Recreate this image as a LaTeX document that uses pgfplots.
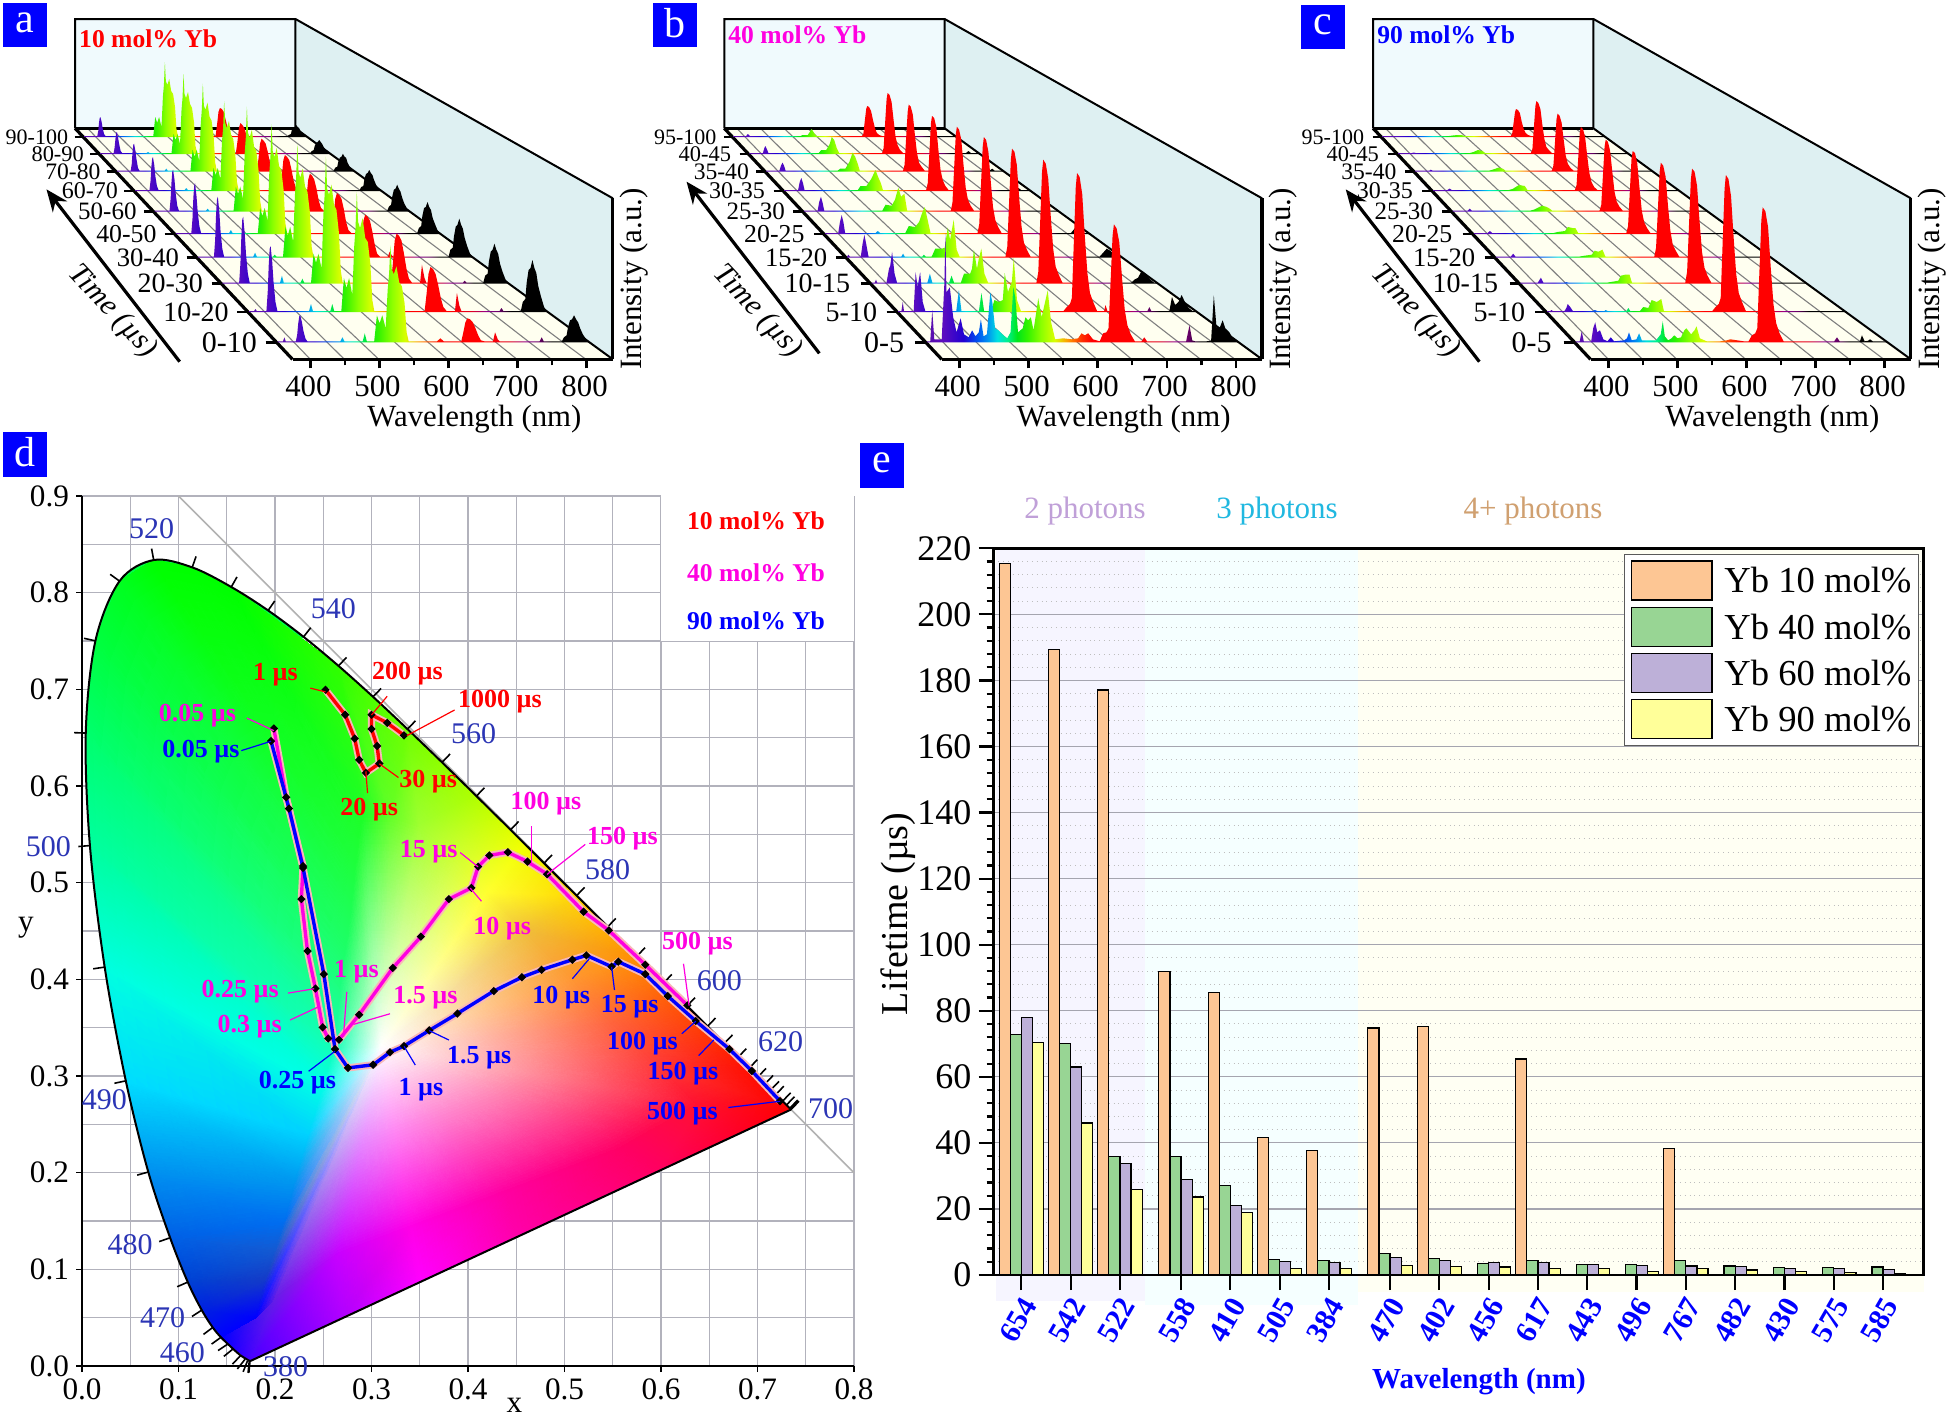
\documentclass[border=0pt]{standalone}
\usepackage{fontspec}
\setmainfont{Liberation Serif}
\usepackage{pgfplots}
\usepackage{pgfplotstable}
\pgfplotsset{compat=1.18}
\usepgfplotslibrary{patchplots}
\usetikzlibrary{arrows.meta}
\newcommand\fs[1]{\fontsize{#1}{#1}\selectfont}
\pgfdeclarehorizontalshading{spectrum}{100bp}{rgb(0bp)=(.35,.06,.66);rgb(25bp)=(.35,.06,.66);rgb(27.6bp)=(.36,.05,.75);rgb(30.85bp)=(.13,0,.82);rgb(33bp)=(0,.31,.94);rgb(34.65bp)=(0,.56,.94);rgb(36.3bp)=(0,.88,.88);rgb(37.9bp)=(0,.94,.56);rgb(39.5bp)=(0,.9,.1);rgb(41.15bp)=(.2,.95,0);rgb(43.35bp)=(.55,1,0);rgb(45.5bp)=(.85,1,0);rgb(47.65bp)=(1,.6,0);rgb(49.85bp)=(1,.19,0);rgb(51.45bp)=(1,0,0);rgb(59.05bp)=(1,0,0);rgb(62.3bp)=(.88,0,.13);rgb(65bp)=(.56,0,.56);rgb(67.2bp)=(.38,0,.38);rgb(69bp)=(0,0,0);rgb(75bp)=(0,0,0);rgb(100bp)=(0,0,0)}
\pgfplotsset{ridgeax/.style={scale only axis,hide axis,clip=false,xmin=374,xmax=838,ymin=0,ymax=200,height=100pt,anchor=south west}}
\newcommand\ridge[5]{\edef\tmpat{{({(\ox+#2)*.5pt},{-(#3)*.5pt})}}\begin{axis}[ridgeax,width=#4pt,at/.expand once=\tmpat]\addplot[draw=none,shade,shading=spectrum] coordinates {#5};\end{axis}}
\newcommand\RA{\ridge{\ox}{276.3}{342.3}{156.65}}
\newcommand\RB{\ridge{\ox}{247.7}{312}{149.8}}
\newcommand\RC{\ridge{\ox}{221.2}{283.7}{143.75}}
\newcommand\RD{\ridge{\ox}{196.7}{257.7}{138.15}}
\newcommand\RE{\ridge{\ox}{174.7}{234}{133}}
\newcommand\RF{\ridge{\ox}{153.5}{211.7}{128.2}}
\newcommand\RG{\ridge{\ox}{134}{191}{123.75}}
\newcommand\RH{\ridge{\ox}{115.8}{171.7}{119.5}}
\newcommand\RI{\ridge{\ox}{99.2}{154}{115.75}}
\newcommand\RJ{\ridge{\ox}{83.3}{137}{112}}
% panel background, zoom coordinates
\newcommand\panelbg[3]{%
\begin{scope}[shift={(\ox,0)},x=.20747pt,y=-.16667pt]
\fill[fill={rgb,255:red,240;green,250;blue,253}] (181,57) rectangle (712,385);
\fill[fill={rgb,255:red,222;green,240;blue,242}] (712,57)--(1477,595)--(1477,1078)--(712,385)--cycle;
\fill[fill={rgb,255:red,255;green,255;blue,240}] (181,385)--(712,385)--(1477,1078)--(705,1078)--cycle;
\foreach \b/\f in {211/748,268/830,325/913,382/997,440/1079,497/1163,554/1246,611/1329,668/1412}{\draw[gray,line width=.55pt] (\b,385)--(\f,1078);}
\draw[black,line width=1pt] (181,385)--(181,57)--(712,57)--(1477,595);
\draw[black,line width=1pt] (712,57)--(712,385)--(1477,1078);
\draw[black,line width=1.2pt] (181,385)--(712,385);
\draw[black,line width=1.6pt] (181,385)--(705,1078);
\draw[black,line width=1.6pt] (1477,595)--(1477,1078);
\node[anchor=west,inner sep=0pt,text=#2,font=\fs{12.8}\bfseries] at (190,#1) {#3 mol\% Yb};
\node[rotate=90,font=\fs{15.5}] at (1528,837) {Intensity (a.u.)};
\end{scope}}
\newcommand\rowlabs[1]{%
\begin{scope}[shift={(\ox,0)},x=.20747pt,y=-.16667pt]
\foreach \ly/\lx/\tx/\ex/\sz/\lab in {#1}{
\draw[black,line width=1.3pt] (\tx,\ly)--(\ex,\ly);
\node[anchor=east,inner sep=0pt,font=\fs{\sz}] at (\lx,\ly) {\lab};}
\end{scope}}
\newcommand\timearrow[5]{%
\begin{scope}[shift={(\ox,0)},x=.20747pt,y=-.16667pt]
\draw[black,line width=1.6pt,-{Stealth[length=11pt,width=9pt]}] (#1,#2)--(#3,#4);
\node[rotate=-47,font=\fs{15}\itshape] at (#5,935) {Time (µs)};
\end{scope}}
\newcommand\waxis{%
\edef\tmpat{{({(\ox+292.5)*.5pt},{-359.3*.5pt})}}%
\begin{axis}[scale only axis,width=160.15pt,height=10pt,at/.expand once=\tmpat,anchor=south west,xmin=374,xmax=838,ymin=0,ymax=1,
 axis x line*=bottom,axis y line=none,axis line style={line width=1.5pt,-},xtick={400,500,600,700,800},minor xtick={450,550,650,750},
 tick align=outside,major tick length=4.5pt,minor tick length=3pt,tick style={black,line width=1.25pt},
 xticklabel style={font=\fs{15.4},yshift=-.5pt,xshift=-1pt},/pgf/number format/assume math mode=true,/pgf/number format/1000 sep={},
 xlabel={Wavelength (nm)},xlabel style={font=\fs{15.4},at={(rel axis cs:0.568,0)},anchor=center,yshift=-29.7pt}]
\end{axis}}
\newcommand\panelsq[3]{\fill[fill={rgb,255:red,0;green,0;blue,255}] (#1,#2) rectangle ++(44,44.5);\node[text=white,font=\fs{21}] at (#1+22,#2+20) {#3};}
\pgfplotstableread{
x o g p y
0 215.5 72.9 77.9 70.3
1 189.3 70.1 63 46
2 177.1 35.8 33.8 25.9
3.24 91.9 35.8 28.8 23.6
4.24 85.5 27.1 21 19
5.24 41.7 4.6 4.2 2
6.24 37.6 4.5 3.9 1.9
7.48 74.8 6.4 5.3 3
8.48 75.3 5.1 4.5 2.5
9.48 nan 3.4 3.7 2.4
10.48 65.4 4.5 3.7 2
11.48 nan 3.2 3.2 2
12.48 nan 3.2 2.8 1
13.48 38.4 4.3 2.7 1.9
14.48 nan 2.7 2.5 1.5
15.48 nan 2.2 2 1.1
16.48 nan 2.3 1.9 .7
17.48 nan 2.4 1.7 .5
}\lifetimes
\definecolor{bo}{HTML}{FDC694}\definecolor{bg}{HTML}{98D594}\definecolor{bp}{HTML}{BDB0D8}\definecolor{by}{HTML}{FFFF99}
\definecolor{wl}{HTML}{2B35B5}\definecolor{hr}{HTML}{F8B8B8}\definecolor{mg}{HTML}{FF00E0}
\begin{document}
\begin{tikzpicture}[x=.5pt,y=-.5pt]
\useasboundingbox (0,0) rectangle (1950,1419);
\fill[white] (0,0) rectangle (1950,1419);
%%%%%%%%%%%% panel a
\def\ox{0}\panelbg{115}{red}{10}
\RJ{(376,0)(376,1)(403,1)(405,6)(406.5,14)(408,19)(409.5,20)(412,15)(414,9)(417,3)(420,1)(519,1)(523,20)(527,14)(531,20)(536,10)(539,41)(541,52)(543,75)(545,56)(548,52)(552,58)(556,46)(560,43)(564,30)(567,8)(570,1)(648,1)(651,12)(654,25)(657,29)(661,28)(665,25)(669,17)(673,9)(677,3)(682,1)(797,1)(800,2)(804,3)(806,7)(809,10)(812,10)(815,12)(818,10)(821,9)(824,6)(828,4)(833,1)(837,1)(837,0)}
\RI{(376,0)(376,1)(403,1)(405,7)(406.5,15)(408,21)(409.5,22)(412,16)(414,10)(417,3)(420,1)(469,1)(472,2)(475,1)(519,1)(523,20)(527,14)(531,20)(536,10)(539,44)(541,56)(543,80)(545,60)(548,56)(552,62)(556,50)(560,46)(564,32)(567,8)(570,1)(648,1)(651,12)(654,26)(657,31)(661,29)(665,26)(669,19)(673,9)(677,3)(682,1)(797,1)(800,3)(804,4)(806,8)(809,11)(812,12)(815,14)(818,12)(821,10)(824,7)(828,4)(833,1)(837,1)(837,0)}
\RH{(376,0)(376,1)(403,1)(405,8)(406.5,20)(408,27)(409.5,28)(412,21)(414,13)(417,4)(420,1)(469,1)(472,3)(475,1)(519,1)(523,22)(527,15)(531,22)(536,11)(539,48)(541,62)(543,88)(545,66)(548,62)(552,69)(556,55)(560,51)(564,35)(567,9)(570,1)(648,1)(651,13)(654,28)(657,33)(661,31)(665,28)(669,20)(673,10)(677,3)(682,1)(797,1)(800,4)(804,5)(806,10)(809,14)(812,15)(815,18)(818,15)(821,14)(824,9)(828,5)(833,2)(837,1)(837,0)}
\RG{(376,0)(376,1)(403,1)(405,10)(406.5,24)(408,32)(409.5,34)(412,26)(414,15)(417,5)(420,1)(469,1)(472,3)(475,1)(519,1)(523,23)(527,16)(531,23)(536,12)(539,50)(541,63)(543,90)(545,68)(548,63)(552,70)(556,56)(560,52)(564,36)(567,9)(570,1)(648,1)(651,14)(654,31)(657,36)(661,34)(665,31)(669,22)(673,11)(677,4)(682,1)(797,1)(800,4)(804,5)(806,12)(809,17)(812,18)(815,21)(818,18)(821,16)(824,11)(828,6)(833,2)(837,1)(837,0)}
\RF{(376,0)(376,1)(403,1)(405,13)(406.5,29)(408,40)(409.5,42)(412,32)(414,19)(417,6)(420,1)(469,1)(472,3)(475,1)(519,1)(523,25)(527,18)(531,25)(536,13)(539,58)(541,74)(543,105)(545,79)(548,74)(552,82)(556,65)(560,61)(564,42)(567,11)(570,1)(648,1)(651,15)(654,32)(657,38)(661,36)(665,32)(669,23)(673,11)(677,4)(682,1)(797,1)(800,5)(804,7)(806,15)(809,22)(812,23)(815,27)(818,23)(821,20)(824,14)(828,8)(833,3)(837,1)(837,0)}
\RE{(376,0)(376,1)(403,1)(405,15)(406.5,36)(408,48)(409.5,51)(412,38)(414,23)(417,8)(420,1)(469,1)(472,4)(475,1)(519,1)(523,26)(527,18)(531,26)(536,13)(539,61)(541,77)(543,110)(545,83)(548,77)(552,86)(556,68)(560,64)(564,44)(567,11)(570,1)(648,1)(651,16)(654,35)(657,41)(661,39)(665,35)(669,25)(673,12)(677,4)(682,1)(695,1)(698,3)(702,1)(797,1)(800,6)(804,8)(806,18)(809,26)(812,27)(815,32)(818,27)(821,24)(824,16)(828,10)(833,3)(837,1)(837,0)}
\RD{(376,0)(376,1)(403,1)(405,18)(406.5,43)(408,58)(409.5,61)(412,46)(414,27)(417,9)(420,1)(469,1)(472,5)(475,1)(502,1)(505,3)(508,1)(519,1)(523,31)(527,22)(531,31)(536,16)(539,63)(541,80)(543,114)(545,86)(548,80)(552,89)(556,71)(560,66)(564,46)(567,11)(570,1)(648,1)(651,17)(654,37)(657,43)(661,41)(665,37)(669,26)(673,13)(677,4)(682,1)(695,1)(698,6)(702,2)(705,1)(797,1)(800,8)(804,10)(806,21)(809,31)(812,33)(815,39)(818,33)(821,29)(824,20)(828,12)(833,4)(837,1)(837,0)}
\RC{(376,0)(376,1)(403,1)(405,20)(406.5,47)(408,64)(409.5,67)(412,50)(414,30)(417,10)(420,1)(469,1)(472,8)(475,1)(502,1)(505,5)(508,1)(519,1)(523,30)(527,21)(531,30)(536,15)(539,70)(541,89)(543,127)(545,95)(548,89)(552,99)(556,79)(560,74)(564,51)(567,13)(570,1)(648,1)(651,20)(654,43)(657,50)(661,48)(665,43)(669,30)(673,15)(677,5)(682,1)(695,1)(698,19)(702,6)(705,1)(764,1)(767,3)(770,1)(797,1)(800,8)(804,10)(806,22)(809,32)(812,34)(815,40)(818,34)(821,30)(824,20)(828,12)(833,4)(837,1)(837,0)}
\RB{(376,0)(376,1)(384,1)(386,3)(388,1)(403,1)(405,20)(406.5,46)(408,63)(409.5,66)(412,50)(414,30)(417,10)(420,1)(469,1)(472,8)(475,1)(502,1)(505,8)(508,1)(519,1)(523,34)(527,24)(531,34)(536,17)(539,66)(541,84)(543,120)(545,90)(548,84)(552,94)(556,74)(560,70)(564,48)(567,12)(570,1)(648,1)(651,18)(654,38)(657,45)(661,43)(665,38)(669,27)(673,14)(677,5)(682,1)(695,1)(698,19)(702,6)(705,1)(764,1)(767,4)(770,1)(797,1)(800,10)(804,13)(806,29)(809,42)(812,44)(815,52)(818,44)(821,39)(824,26)(828,16)(833,5)(837,1)(837,0)}
\RA{(376,0)(376,1)(384,1)(386,5)(388,1)(403,1)(405,8)(406.5,19)(408,26)(409.5,27)(412,20)(414,12)(417,4)(420,1)(469,1)(472,5)(475,1)(502,1)(505,9)(508,1)(519,1)(523,27)(527,19)(531,27)(536,14)(539,53)(541,68)(543,97)(545,73)(548,68)(552,76)(556,60)(560,56)(564,39)(567,10)(570,1)(612,1)(617,4)(622,1)(648,1)(651,10)(654,20)(657,24)(661,23)(665,20)(669,14)(673,7)(677,2)(682,1)(695,1)(698,10)(702,3)(705,1)(764,1)(767,5)(770,1)(797,1)(800,5)(804,7)(806,15)(809,22)(812,23)(815,27)(818,23)(821,20)(824,14)(828,8)(833,3)(837,1)(837,0)}
\rowlabs{411/165/180/201/11/90-100,462/203/218/239/11.2/80-90,515/243/258/279/11.8/70-80,573/285/300/323/12/60-70,635/330/347/370/12.5/50-60,702/378/397/421/12.9/40-50,773/432/450/474/13.3/30-40,851/490/510/533/14/20-30,936/552/572/597/14/10-20,1027/620/640/666/15/0-10}
\timearrow{433}{1085}{112}{568}{270}
\waxis
%%%%%%%%%%%% panel b
\def\ox{649.2}\panelbg{103}{mg}{40}
\RJ{(376,0)(376,1)(402,1)(406,3)(410,1)(515,1)(519,2)(530,2)(538,8)(543,4)(548,1)(642,1)(645,3)(648,16)(651,28)(653,31)(657,30)(661,26)(665,17)(669,9)(673,4)(678,2)(684,1)(837,1)(837,0)}
\RI{(376,0)(376,1)(403,1)(406,6)(408,8)(411,5)(414,1)(515,1)(520,4)(530,4)(537,10)(541,17)(546,14)(551,6)(556,1)(642,1)(645,6)(648,31)(651,55)(653,61)(657,59)(661,52)(665,34)(669,17)(673,9)(678,4)(684,1)(810,1)(815,3)(820,1)(837,1)(837,0)}
\RH{(376,0)(376,1)(402,1)(405,6)(408,9)(411,6)(414,1)(515,1)(520,3)(530,3)(538,10)(544,19)(549,15)(554,8)(558,1)(642,1)(645,7)(648,34)(651,60)(653,67)(657,65)(661,57)(665,37)(669,19)(673,9)(678,5)(684,1)(810,1)(815,3)(820,1)(837,1)(837,0)}
\RG{(376,0)(376,1)(402,1)(405,9)(408,13)(411,8)(414,1)(514,1)(519,5)(530,5)(539,12)(547,21)(552,14)(557,8)(561,1)(642,1)(645,8)(648,38)(651,68)(653,75)(657,73)(661,64)(665,41)(669,21)(673,11)(678,5)(684,1)(810,1)(815,3)(820,1)(837,1)(837,0)}
\RF{(376,0)(376,1)(401,1)(404,10)(407,15)(410,9)(413,1)(518,1)(524,7)(535,6)(541,12)(547,24)(552,15)(558,18)(563,1)(642,1)(645,9)(648,43)(651,77)(653,85)(657,82)(661,72)(665,47)(669,24)(673,12)(678,6)(684,1)(810,1)(815,3)(820,1)(837,1)(837,0)}
\RE{(376,0)(376,1)(399,1)(402,12)(405,19)(408,12)(411,1)(464,1)(468,3)(472,1)(516,1)(522,8)(533,7)(540,12)(546,22)(550,27)(555,14)(560,1)(642,1)(645,10)(648,49)(651,87)(653,97)(657,94)(661,82)(665,53)(669,27)(673,14)(678,7)(684,1)(805,1)(812,6)(818,3)(824,1)(837,1)(837,0)}
\RD{(376,0)(376,1)(378,3)(381,1)(399,1)(402,14)(405,23)(408,14)(412,1)(467,1)(470,4)(473,1)(502,1)(505,3)(508,1)(518,1)(524,9)(535,9)(540,10)(545,30)(549,18)(555,38)(560,8)(565,1)(642,1)(645,11)(648,55)(651,98)(653,109)(657,106)(661,93)(665,60)(669,31)(673,15)(678,8)(684,1)(800,1)(806,5)(812,9)(818,7)(826,2)(832,1)(837,1)(837,0)}
\RC{(376,0)(376,1)(381,1)(383,4)(385,1)(400,1)(404,15)(406,18)(409,32)(413,10)(417,1)(466,1)(470,10)(474,1)(501,1)(505,8)(509,1)(520,1)(525,10)(535,10)(538,15)(541,34)(546,15)(549,25)(553,35)(558,10)(564,1)(642,1)(645,12)(648,62)(651,112)(653,124)(657,120)(661,105)(665,68)(669,35)(673,17)(678,9)(684,1)(795,1)(800,4)(806,6)(812,13)(818,10)(826,4)(832,1)(837,1)(837,0)}
\RB{(376,0)(376,1)(381,1)(383,10)(385,1)(400,1)(403,40)(406,25)(410,40)(414,10)(418,1)(466,1)(470,22)(474,1)(501,1)(505,19)(509,1)(520,1)(525,12)(532,10)(538,12)(541,39)(546,20)(552,30)(555,54)(560,12)(566,1)(632,1)(637,5)(642,8)(645,14)(648,70)(651,125)(653,139)(657,135)(661,118)(665,76)(669,39)(673,19)(678,10)(684,1)(695,1)(697,7)(700,1)(762,1)(765,5)(768,1)(796,1)(800,15)(805,7)(810,10)(815,17)(820,10)(826,4)(832,1)(837,1)(837,0)}
\RA{(376,0)(376,1)(381,1)(384,32)(387,3)(398,3)(402,60)(403.5,109)(405,50)(410,55)(415,25)(420,10)(426,24)(431,8)(438,5)(443,12)(448,6)(453,10)(456,23)(460,6)(465,8)(470,50)(473,40)(477,14)(482,12)(488,8)(495,4)(500,10)(504,55)(507,45)(511,10)(518,14)(522,25)(526,22)(530,25)(534,12)(538,30)(541,44)(546,25)(551,40)(555,52)(560,20)(566,3)(578,4)(590,3)(600,4)(605,9)(610,7)(615,9)(622,3)(632,1)(637,9)(642,10)(645,14)(648,59)(651,106)(653,118)(657,114)(661,100)(665,65)(669,33)(673,17)(678,8)(684,1)(694,1)(698,5)(702,1)(760,1)(765,17)(769,2)(773,1)(790,1)(797,1.5)(801,47)(805,15)(810,15)(814,22)(818,14)(824,10)(830,3)(836,1)(837,0)}
\rowlabs{411/163/180/201/11/95-100,462/198/218/239/11.2/40-45,515/241/258/279/11.8/35-40,573/280/300/323/12/30-35,635/328/347/370/12.5/25-30,702/375/397/421/12.9/20-25,773/430/450/474/13.3/15-20,851/485/510/533/14/10-15,936/550/572/597/14/5-10,1027/615/640/666/15/0-5}
\timearrow{410}{1060}{90}{545}{260}
\waxis
%%%%%%%%%%%% panel c
\def\ox{1298}\panelbg{103}{blue}{90}
\RJ{(376,0)(376,1)(515,1)(522,1.5)(533,2)(540,2)(546,1)(642,1)(645,3)(648,14)(651,25)(653,28)(657,27)(661,24)(665,15)(669,8)(673,4)(678,2)(684,1)(837,1)(837,0)}
\RI{(376,0)(376,1)(404,1)(407,1.5)(411,1)(520,1)(527,2)(536,4)(545,3)(550,1)(642,1)(645,5)(648,27)(651,48)(653,53)(657,51)(661,45)(665,29)(669,15)(673,7)(678,4)(684,1)(837,1)(837,0)}
\RH{(376,0)(376,1)(404,1)(407,2)(411,1)(520,1)(527,2)(538,4)(547,3)(552,1)(642,1)(645,6)(648,29)(651,52)(653,58)(657,56)(661,49)(665,32)(669,16)(673,8)(678,4)(684,1)(837,1)(837,0)}
\RG{(376,0)(376,1)(403,1)(407,2.5)(411,1)(518,1)(525,2)(537,6)(548,5)(553,1)(642,1)(645,6)(648,32)(651,58)(653,64)(657,62)(661,54)(665,35)(669,18)(673,9)(678,4)(684,1)(837,1)(837,0)}
\RF{(376,0)(376,1)(403,1)(407,3)(411,1)(516,1)(523,2)(538,6)(545,5)(552,3)(556,1)(642,1)(645,7)(648,36)(651,65)(653,72)(657,70)(661,61)(665,40)(669,20)(673,10)(678,5)(684,1)(837,1)(837,0)}
\RE{(376,0)(376,1)(400,1)(404,3)(408,1)(515,1)(522,2)(535,3)(540,7)(548,6)(553,6)(558,1)(642,1)(645,8)(648,42)(651,75)(653,83)(657,81)(661,71)(665,46)(669,23)(673,12)(678,6)(684,1)(837,1)(837,0)}
\RD{(376,0)(376,1)(401,1)(405,4)(409,1)(515,1)(525,2)(537,3)(542,7)(548,6)(555,8)(560,1)(642,1)(645,10)(648,48)(651,86)(653,95)(657,92)(661,81)(665,52)(669,27)(673,13)(678,7)(684,1)(837,1)(837,0)}
\RC{(376,0)(376,1)(404,1)(409,6)(413,1)(445,1)(450,1.5)(455,1)(515,1)(525,2)(534,3)(538,8)(545,9)(552,9)(556,1)(642,1)(645,12)(648,58)(651,104)(653,115)(657,112)(661,98)(665,63)(669,32)(673,16)(678,8)(684,1)(837,1)(837,0)}
\RB{(376,0)(376,1)(381,1)(383,2)(385,1)(403,1)(406,4)(408,8)(412,5)(416,1)(447,1)(450,2)(454,1)(465,1)(467,2)(470,1)(499,1)(502,4)(505,1)(520,1)(525,5)(533,4)(538,12)(546,10)(553,13)(557,1)(632,1)(637,5)(642,8)(645,14)(648,69)(651,123)(653,137)(657,133)(661,116)(665,75)(669,38)(673,19)(678,10)(684,1)(837,1)(837,0)}
\RA{(376,0)(376,1)(382,1)(385,11)(388,1)(399,1)(402,14)(405,20)(408,10)(412,12)(417,3)(423,1)(428,5)(433,1)(448,2)(452,4)(455,10)(459,2)(466,3)(470,9)(474,2)(482,2)(495,2)(502,8)(505,21)(508,6)(513,2)(518,4)(522,7)(527,4)(532,5)(537,12)(540,14)(547,8)(552,12)(555,16)(560,4)(570,1)(590,1)(600,2)(605,3)(615,2)(625,1)(632,1)(637,7)(642,9)(645,14)(648,68)(651,122)(653,135)(657,131)(661,115)(665,74)(669,38)(673,19)(678,9)(684,1)(759,1)(763,5)(767,1)(797,1)(800,7)(804,1)(809,1.5)(812,3)(816,1)(837,1)(837,0)}
\rowlabs{411/160/180/201/11/95-100,462/196/218/239/11.2/40-45,515/238/258/279/11.8/35-40,573/278/300/323/12/30-35,635/326/347/370/12.5/25-30,702/373/397/421/12.9/20-25,773/428/450/474/13.3/15-20,851/483/510/533/14/10-15,936/548/572/597/14/5-10,1027/612/640/666/15/0-5}
\timearrow{437}{1085}{115}{568}{282}
\waxis
%%%%%%%%%%%% panel letters
\panelsq{3.3}{2.7}{a}\panelsq{653}{2.7}{b}\panelsq{1301}{4.5}{c}\panelsq{3.3}{432}{d}\panelsq{860}{443}{e}
%%%%%%%%%%%% panel d
\begin{axis}[scale only axis,width=386pt,height=435pt,at={(41pt,-683pt)},anchor=south west,xmin=0,xmax=.8,ymin=0,ymax=.9,clip=false,
 axis x line*=bottom,axis y line*=left,axis line style={-,line width=.9pt},
 xtick={0,.1,...,.8},ytick={0,.1,...,.9},minor tick num=1,grid=both,
 major grid style={draw={rgb,255:red,178;green,178;blue,188},line width=.7pt},minor grid style={draw={rgb,255:red,178;green,178;blue,188},line width=.7pt},
 tick align=outside,major tick length=3pt,minor tick length=0pt,tick style={black,line width=.6pt},
 ticklabel style={font=\fs{15.6}},/pgf/number format/assume math mode=true,/pgf/number format/fixed,/pgf/number format/fixed zerofill,/pgf/number format/precision=1,
 xlabel={x},xlabel style={font=\fs{15.6},at={(rel axis cs:.56,0)},anchor=center,yshift=-19.8pt},
 ylabel={y},ylabel style={font=\fs{15.6},at={(rel axis cs:0,.504)},anchor=center,rotate=-90,xshift=-28pt}]
\addplot[draw={rgb,255:red,178;green,178;blue,178},line width=.8pt] coordinates {(.1,.9)(.8,.2)};
\addplot[draw=none,fill={rgb,255:red,0;green,255;blue,70},smooth,tension=.55] coordinates {(.0235,.4127)(.0082,.5384)(.0039,.6548)(.0139,.7502)(.0389,.812)(.0743,.8338)(.1142,.8262)(.1547,.8059)(.1929,.7816)(.2296,.7543)} --cycle;
\addplot[patch,patch type=triangle,shader=interp,mesh/color input=explicit,table/row sep=\\,
 patch table={0 1 28\\1 29 28\\28 29 56\\1 2 29\\2 30 29\\29 30 56\\2 3 30\\3 31 30\\30 31 56\\3 4 31\\4 32 31\\31 32 56\\4 5 32\\5 33 32\\32 33 56\\5 6 33\\6 34 33\\33 34 56\\6 7 34\\7 35 34\\34 35 56\\7 8 35\\8 36 35\\35 36 56\\8 9 36\\9 37 36\\36 37 56\\9 10 37\\10 38 37\\37 38 56\\10 11 38\\11 39 38\\38 39 56\\11 12 39\\12 40 39\\39 40 56\\12 13 40\\13 41 40\\40 41 56\\13 14 41\\14 42 41\\41 42 56\\14 15 42\\15 43 42\\42 43 56\\15 16 43\\16 44 43\\43 44 56\\16 17 44\\17 45 44\\44 45 56\\17 18 45\\18 46 45\\45 46 56\\18 19 46\\19 47 46\\46 47 56\\19 20 47\\20 48 47\\47 48 56\\20 21 48\\21 49 48\\48 49 56\\21 22 49\\22 50 49\\49 50 56\\22 23 50\\23 51 50\\50 51 56\\23 24 51\\24 52 51\\51 52 56\\24 25 52\\25 53 52\\52 53 56\\25 26 53\\26 54 53\\53 54 56\\26 27 54\\27 55 54\\54 55 56\\27 0 55\\0 28 55\\55 28 56\\}]
 table[row sep=\\,meta=c]{x y c\\
.1741 .005 rgb255=70,0,255\\.144 .0297 rgb255=0,0,255\\.1241 .0578 rgb255=0,32,225\\.1096 .0868 rgb255=0,64,212\\.0913 .1327 rgb255=0,96,230\\.0687 .2007 rgb255=0,144,240\\.0454 .295 rgb255=0,220,255\\.0235 .4127 rgb255=0,255,224\\.0082 .5384 rgb255=0,255,160\\.0039 .6548 rgb255=0,255,110\\.0139 .7502 rgb255=0,255,64\\.0389 .812 rgb255=0,255,32\\.0743 .8338 rgb255=0,255,0\\.1142 .8262 rgb255=0,255,0\\.1547 .8059 rgb255=0,255,0\\.2658 .7243 rgb255=48,255,0\\.3373 .6589 rgb255=112,255,0\\.4087 .5896 rgb255=176,255,0\\.458 .54 rgb255=240,255,0\\.5125 .4866 rgb255=255,216,0\\.5752 .4242 rgb255=255,144,0\\.627 .3725 rgb255=255,80,0\\.6915 .3083 rgb255=255,16,0\\.7347 .2653 rgb255=255,0,0\\.6 .2027 rgb255=255,0,96\\.45 .1331 rgb255=255,0,170\\.35 .0866 rgb255=255,0,255\\.27 .0495 rgb255=176,0,255\\
.20 .07 rgb255=100,30,230\\.18 .05 rgb255=0,0,255\\.19 .09 rgb255=20,60,200\\.20 .12 rgb255=20,90,210\\.21 .15 rgb255=0,110,240\\.22 .19 rgb255=0,150,240\\.235 .24 rgb255=0,210,255\\.25 .29 rgb255=0,255,230\\.262 .33 rgb255=20,255,180\\.268 .39 rgb255=30,255,130\\.275 .44 rgb255=30,255,100\\.28 .48 rgb255=30,255,80\\.284 .52 rgb255=30,255,60\\.287 .545 rgb255=30,255,50\\.292 .57 rgb255=30,255,40\\.32 .57 rgb255=100,255,40\\.35 .56 rgb255=160,255,48\\.39 .53 rgb255=208,255,48\\.42 .49 rgb255=255,255,48\\.46 .45 rgb255=240,190,60\\.51 .40 rgb255=255,150,50\\.55 .355 rgb255=255,100,60\\.60 .31 rgb255=255,56,56\\.64 .27 rgb255=255,16,48\\.56 .225 rgb255=255,0,100\\.44 .18 rgb255=255,0,160\\.34 .143 rgb255=255,0,230\\.265 .115 rgb255=200,0,255\\.31 .33 rgb255=255,255,255\\};
\addplot[black,line width=1pt,smooth,tension=.55] coordinates {(.1741,.005)(.1644,.0109)(.1566,.0177)(.144,.0297)(.1355,.0399)(.1241,.0578)(.1096,.0868)(.0913,.1327)(.0687,.2007)(.0454,.295)(.0235,.4127)(.0082,.5384)(.0039,.6548)(.0139,.7502)(.0389,.812)(.0743,.8338)(.1142,.8262)(.1547,.8059)(.1929,.7816)(.2296,.7543)(.2658,.7243)(.3016,.6923)(.3373,.6589)(.3731,.6245)(.4087,.5896)(.4441,.5547)(.4788,.5202)(.5125,.4866)(.5448,.4544)(.5752,.4242)(.6029,.3965)(.627,.3725)(.6658,.334)(.6915,.3083)(.7079,.292)(.726,.274)(.7347,.2653)};
\addplot[black,line width=1pt] coordinates {(.7347,.2653)(.1741,.005)};
\addplot[black,line width=.8pt,unbounded coords=jump] coordinates {(.144,.0297)(.1343,.0227)(nan,nan)(.1355,.0399)(.1259,.0327)(nan,nan)(.1241,.0578)(.114,.0513)(nan,nan)(.1096,.0868)(.0986,.082)(nan,nan)(.0913,.1327)(.08,.1287)(nan,nan)(.0687,.2007)(.0572,.1975)(nan,nan)(.0454,.295)(.0336,.2925)(nan,nan)(.0235,.4127)(.0116,.4109)(nan,nan)(.0082,.5384)(-.0038,.5374)(nan,nan)(.0039,.6548)(-.0081,.6552)(nan,nan)(.0139,.7502)(.0021,.7528)(nan,nan)(.0389,.812)(.0292,.819)(nan,nan)(.0743,.8338)(.0721,.8456)(nan,nan)(.1142,.8262)(.1182,.8375)(nan,nan)(.1547,.8059)(.1606,.8163)(nan,nan)(.1929,.7816)(.1997,.7914)(nan,nan)(.2296,.7543)(.237,.7638)(nan,nan)(.2658,.7243)(.2741,.7331)(nan,nan)(.3016,.6923)(.3099,.7009)(nan,nan)(.3373,.6589)(.3456,.6675)(nan,nan)(.3731,.6245)(.3814,.6331)(nan,nan)(.4087,.5896)(.417,.5982)(nan,nan)(.4441,.5547)(.4524,.5633)(nan,nan)(.4788,.5202)(.4871,.5288)(nan,nan)(.5125,.4866)(.5208,.4952)(nan,nan)(.5448,.4544)(.5531,.463)(nan,nan)(.5752,.4242)(.5835,.4328)(nan,nan)(.6029,.3965)(.6112,.4051)(nan,nan)(.627,.3725)(.6353,.3811)(nan,nan)(.6482,.3514)(.6565,.36)(nan,nan)(.6658,.334)(.6741,.3426)(nan,nan)(.6801,.3197)(.6884,.3283)(nan,nan)(.6915,.3083)(.6998,.3169)(nan,nan)(.7006,.2993)(.7089,.3079)(nan,nan)(.7079,.292)(.7162,.3006)(nan,nan)(.714,.2859)(.7223,.2945)(nan,nan)(.719,.2809)(.7273,.2895)(nan,nan)(.726,.274)(.7343,.2826)(nan,nan)(.73,.27)(.7383,.2786)(nan,nan)(.7334,.2666)(.7417,.2752)(nan,nan)(.7347,.2653)(.743,.2739)(nan,nan)(.1741,.005)(.1729,-.007)(nan,nan)(.1733,.0048)(.1721,-.0072)(nan,nan)(.1714,.0051)(.167,-.006)(nan,nan)(.1689,.0069)(.161,-.003)(nan,nan)(.1644,.0109)(.156,.002)(nan,nan)(.1566,.0177)(.147,.01)(nan,nan)(.151,.0227)(.141,.016)};
% trajectories
\def\tred{(.2523,.6996)(.2727,.6737)(.2826,.6491)(.2872,.6271)(.2942,.6136)(.3081,.6233)(.3058,.6414)(.30,.659)(.30,.6737)(.3163,.6653)(.3337,.6524)}
\def\tmag{(.1988,.6595)(.2116,.5883)(.2291,.5172)(.2273,.483)(.2337,.4293)(.2419,.3905)(.2494,.3504)(.2552,.3388)(.2663,.3375)(.2872,.3634)(.3221,.4118)(.3512,.4442)(.3802,.483)(.4035,.4946)(.4105,.5166)(.4221,.5282)(.4413,.5315)(.4616,.5218)(.482,.5088)(.5198,.47)(.5459,.4506)(.5837,.4151)(.6273,.3731)}
\def\tblu{(.1959,.6465)(.2145,.5767)(.2291,.5153)(.2506,.4054)(.2622,.3278)(.2756,.3084)(.3017,.3116)(.3192,.3246)(.3337,.331)(.3599,.3472)(.389,.3646)(.4267,.3879)(.4558,.4022)(.4762,.4099)(.5081,.4203)(.5227,.4248)(.5488,.4131)(.5558,.4183)(.5837,.4054)(.607,.3827)(.636,.3569)(.6709,.3278)(.6942,.3052)(.7233,.2741)}
\addplot[hr,line width=3.6pt] coordinates {\tred};
\addplot[hr,line width=3.6pt] coordinates {\tmag};
\addplot[hr,line width=3.6pt] coordinates {\tblu};
\addplot[red,line width=1.7pt,mark=*,mark size=.9pt,mark options={black}] coordinates {\tred};
\addplot[mg,line width=1.7pt,mark=*,mark size=.9pt,mark options={black}] coordinates {\tmag};
\addplot[blue,line width=1.7pt,mark=*,mark size=.9pt,mark options={black}] coordinates {\tblu};
\end{axis}
\fill[white] (660.5,495) rectangle (854,641);
\node[text=red,font=\fs{12.8}\bfseries] at (756,521) {10 mol\% Yb};
\node[text=mg,font=\fs{12.8}\bfseries] at (756,572.5) {40 mol\% Yb};
\node[text=blue,font=\fs{12.8}\bfseries] at (756,621) {90 mol\% Yb};
\begin{scope}[shift={(0,440)},x=.28058pt,y=-.3125pt]
\foreach \a/\b/\t in {270/142/520,594/270/540,844/470/560,1083/688/580,1282/865/600,1391/962/620,1480/1070/700,86/650/500,186/1055/490,232/1287/480,290/1404/470,325/1460/460,509/1483/380}{\node[text=wl,font=\fs{15}] at (\a,\b) {\t};}
\foreach \c/\a/\b/\p/\q/\r/\s/\t in {
red/491/375/553/397/580/403/1 µs,red/726/374/690/410/662/440/200 µs,red/891/418/810/432/725/473/1000 µs,red/763/546/710/540/676/518/30 µs,red/658/592/655/565/652/530/20 µs,
mg/352/441/440/445/488/465/0.05 µs,mg/764/659/820/660/852/683/15 µs,mg/973/581/947/618/947/678/100 µs,mg/1109/637/1043/647/975/695/150 µs,mg/895/782/858/738/838/717/10 µs,mg/635/851/618/883/612/955/1 µs,mg/758/893/695/918/630/935/1.5 µs,mg/428/883/513/885/560/878/0.25 µs,mg/445/938/517/928/565/908/0.3 µs,mg/1243/806/1218/838/1228/905/500 µs,
blue/358/499/430/497/483/482/0.05 µs,blue/530/1028/550/1010/597/978/0.25 µs,blue/750/1040/740/1000/720/970/1 µs,blue/854/988/800/960/765/945/1.5 µs,blue/1000/892/1020/862/1050/830/10 µs,blue/1122/906/1095/880/1090/843/15 µs,blue/1145/966/1215/950/1240/930/100 µs,blue/1217/1013/1245/985/1272/960/150 µs,blue/1216/1078/1298/1068/1390/1058/500 µs}{
\draw[\c,line width=.6pt] (\p,\q)--(\r,\s);
\node[text=\c,font=\fs{13}\bfseries] at (\a,\b) {\t};}
\end{scope}
%%%%%%%%%%%% panel e
\fill[fill={rgb,255:red,246;green,245;blue,255}] (995.6,548) rectangle (1145,1301);
\fill[fill={rgb,255:red,245;green,255;blue,255}] (1145,548) rectangle (1358,1305);
\fill[fill={rgb,255:red,255;green,255;blue,243}] (1358,548) rectangle (1924,1292);
\node[text={rgb,255:red,192;green,160;blue,216},font=\fs{15.5}] at (1085,510.7) {2 photons};
\node[text={rgb,255:red,32;green,184;blue,224},font=\fs{15.5}] at (1277,510.7) {3 photons};
\node[text={rgb,255:red,208;green,160;blue,112},font=\fs{15.5}] at (1533,510.7) {4+ photons};
\begin{axis}[scale only axis,width=465pt,height=363.35pt,at={(496.75pt,-637.5pt)},anchor=south west,xmin=-.564,xmax=18.3,ymin=0,ymax=220,
 ybar=0pt,bar width=5.55pt,axis line style={line width=1.4pt},clip=false,
 ytick={0,20,...,220},minor y tick num=4,ymajorgrids,yminorgrids,
 major grid style={draw={rgb,255:red,165;green,165;blue,175},line width=.6pt},minor grid style={draw={rgb,255:red,190;green,190;blue,190},dotted,line width=.5pt},
 xtick={0,1,2,3.24,4.24,5.24,6.24,7.48,8.48,9.48,10.48,11.48,12.48,13.48,14.48,15.48,16.48,17.48},
 xticklabels={654,542,522,558,410,505,384,470,402,456,617,443,496,767,482,430,575,585},
 xtick pos=bottom,ytick pos=left,tick align=outside,major tick length=7.5pt,minor tick length=3.5pt,tick style={black,line width=1.1pt},
 yticklabel style={font=\fs{18}},/pgf/number format/assume math mode=true,
 xticklabel style={font=\fs{15}\bfseries,text=blue,yshift=-15pt,xshift=-1.7pt,rotate=60,anchor=center},
 xlabel={Wavelength (nm)},xlabel style={font=\fs{14.5}\bfseries,text=blue,at={(rel axis cs:.522,0)},anchor=center,yshift=-53.3pt},
 ylabel={Lifetime (µs)},ylabel style={font=\fs{19},at={(rel axis cs:0,.497)},anchor=center,yshift=47.7pt}]
\addplot[draw=black,line width=.6pt,fill=bo] table[x=x,y=o] {\lifetimes};
\addplot[draw=black,line width=.6pt,fill=bg] table[x=x,y=g] {\lifetimes};
\addplot[draw=black,line width=.6pt,fill=bp] table[x=x,y=p] {\lifetimes};
\addplot[draw=black,line width=.6pt,fill=by] table[x=x,y=y] {\lifetimes};
\end{axis}
\draw[draw={rgb,255:red,90;green,90;blue,90},fill=white,line width=.5pt] (1624.7,554) rectangle (1918,745);
\foreach \yy/\c/\t in {561/bo/10,607.3/bg/40,653.5/bp/60,699.7/by/90}{
\draw[black,fill=\c,line width=.7pt] (1631.6,\yy) rectangle (1712,\yy+39);
\node[anchor=west,inner sep=0pt,font=\fs{18.3}] at (1724,\yy+19.5) {Yb \t{} mol\%};}
\end{tikzpicture}
\end{document}
